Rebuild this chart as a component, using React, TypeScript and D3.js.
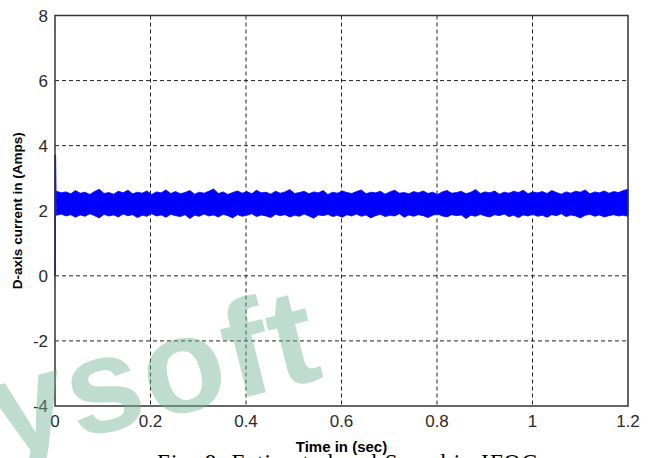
import React from "react";
import * as d3 from "d3";

// Time axis ticks (sec) and current axis ticks (A)
const xTicks = [0, 0.2, 0.4, 0.6, 0.8, 1, 1.2];
const yTicks = [-4, -2, 0, 2, 4, 6, 8];

// Start-up transient of the d-axis current: [time, amps]
const transient: [number, number][] = [
  [0, 0],
  [0.0006, 3.72],
  [0.0016, 2.2],
  [0.003, 2.3],
];

// Steady-state ripple band: upper and lower envelope of i_d (A), sampled evenly from 0.003 s to 1.2 s
const upperEnvelope = [
  2.60, 2.55, 2.58, 2.52, 2.62, 2.54, 2.57, 2.50, 2.59, 2.66, 2.53, 2.56, 2.51, 2.60, 2.55, 2.63, 2.52, 2.57, 2.54, 2.61,
  2.50, 2.58, 2.55, 2.64, 2.53, 2.59, 2.52, 2.56, 2.62, 2.51, 2.57, 2.54, 2.60, 2.67, 2.53, 2.58, 2.50, 2.56, 2.61, 2.54,
  2.59, 2.52, 2.63, 2.55, 2.57, 2.51, 2.60, 2.54, 2.58, 2.65, 2.53, 2.56, 2.60, 2.52, 2.58, 2.55, 2.62, 2.50, 2.57, 2.54,
  2.61, 2.56, 2.53, 2.59, 2.64, 2.52, 2.57, 2.55, 2.60, 2.51, 2.58, 2.63, 2.54, 2.56, 2.52, 2.59, 2.55, 2.61, 2.53, 2.57,
  2.50, 2.58, 2.62, 2.54, 2.56, 2.60, 2.52, 2.57, 2.65, 2.53, 2.58, 2.55, 2.61, 2.51, 2.57, 2.54, 2.60, 2.56, 2.63, 2.52,
  2.58, 2.55, 2.59, 2.53, 2.62, 2.56, 2.51, 2.58, 2.54, 2.60, 2.57, 2.64, 2.52, 2.58, 2.55, 2.61, 2.54, 2.59, 2.56, 2.62, 2.66,
];
const lowerEnvelope = [
  1.86, 1.90, 1.84, 1.88, 1.80, 1.87, 1.83, 1.91, 1.85, 1.78, 1.89, 1.84, 1.87, 1.81, 1.90, 1.85, 1.88, 1.79, 1.86, 1.83,
  1.91, 1.84, 1.87, 1.80, 1.89, 1.85, 1.82, 1.88, 1.76, 1.86, 1.83, 1.90, 1.84, 1.87, 1.81, 1.89, 1.85, 1.78, 1.88, 1.83,
  1.86, 1.91, 1.82, 1.87, 1.84, 1.79, 1.89, 1.85, 1.88, 1.81, 1.86, 1.83, 1.90, 1.84, 1.77, 1.87, 1.85, 1.89, 1.82, 1.86,
  1.80, 1.88, 1.84, 1.90, 1.83, 1.87, 1.78, 1.85, 1.89, 1.82, 1.86, 1.84, 1.91, 1.80, 1.87, 1.83, 1.88, 1.85, 1.79, 1.86,
  1.90, 1.84, 1.81, 1.88, 1.85, 1.87, 1.76, 1.86, 1.83, 1.89, 1.84, 1.81, 1.88, 1.85, 1.90, 1.82, 1.86, 1.79, 1.87, 1.84,
  1.89, 1.83, 1.86, 1.80, 1.88, 1.85, 1.91, 1.82, 1.87, 1.84, 1.78, 1.86, 1.89, 1.83, 1.87, 1.81, 1.85, 1.88, 1.84, 1.86, 1.83,
];
const bandStart = 0.003;
const bandEnd = 1.2;

const xLabel = "Time in (sec)";
const yLabel = "D-axis current in (Amps)";
const caption = "Fig. 9. Estimated and Speed in IFOC";
const watermark = "ysoft";

const W = 651;
const H = 458;
const plot = { left: 55, right: 628, top: 15.5, bottom: 406 };

export default function App() {
  const x = d3.scaleLinear().domain([0, 1.2]).range([plot.left, plot.right]);
  const y = d3.scaleLinear().domain([-4, 8]).range([plot.bottom, plot.top]);

  const n = upperEnvelope.length;
  const band = upperEnvelope.map((u, i) => ({
    t: bandStart + (i * (bandEnd - bandStart)) / (n - 1),
    hi: u,
    lo: lowerEnvelope[i],
  }));

  const area = d3
    .area<{ t: number; hi: number; lo: number }>()
    .x((d) => x(d.t))
    .y0((d) => y(d.lo))
    .y1((d) => y(d.hi));

  const line = d3
    .line<[number, number]>()
    .x((d) => x(d[0]))
    .y((d) => y(d[1]));

  const axisColor = "#333";
  const tickFont = "'Liberation Sans', Arial, sans-serif";

  return (
    <svg
      width={W}
      height={H}
      style={{ position: "absolute", left: 0, top: 0, background: "#fff" }}
    >
      <rect x={0} y={0} width={W} height={H} fill="#fff" />

      {/* dashed grid */}
      {xTicks
        .filter((t) => t > 0 && t < 1.2)
        .map((t) => (
          <line
            key={"gx" + t}
            x1={x(t)}
            x2={x(t)}
            y1={plot.top}
            y2={plot.bottom}
            stroke="#222"
            strokeWidth={1}
            strokeDasharray="4,3"
          />
        ))}
      {yTicks
        .filter((v) => v > -4 && v < 8)
        .map((v) => (
          <line
            key={"gy" + v}
            x1={plot.left}
            x2={plot.right}
            y1={y(v)}
            y2={y(v)}
            stroke="#222"
            strokeWidth={1}
            strokeDasharray="4,3"
          />
        ))}

      {/* d-axis current */}
      <path d={area(band) || ""} fill="#0000ff" stroke="#0000ff" strokeWidth={0.8} />
      <path d={line(transient) || ""} fill="none" stroke="#0000ff" strokeWidth={1.6} />

      {/* frame */}
      <rect
        x={plot.left}
        y={plot.top}
        width={plot.right - plot.left}
        height={plot.bottom - plot.top}
        fill="none"
        stroke={axisColor}
        strokeWidth={1.5}
      />

      {/* tick labels */}
      {xTicks.map((t) => (
        <text
          key={"xt" + t}
          x={x(t)}
          y={427}
          textAnchor="middle"
          fontFamily={tickFont}
          fontSize={17}
          fill="#2a2a2a"
        >
          {String(t)}
        </text>
      ))}
      {yTicks.map((v) => (
        <text
          key={"yt" + v}
          x={48}
          y={y(v) + 6}
          textAnchor="end"
          fontFamily={tickFont}
          fontSize={17}
          fill="#2a2a2a"
        >
          {String(v)}
        </text>
      ))}

      {/* caption, running off the bottom edge */}
      <text
        x={157}
        y={470}
        fontFamily="'Liberation Serif', 'Times New Roman', serif"
        fontSize={23}
        textLength={380}
        lengthAdjust="spacing"
        fill="#000"
      >
        {caption}
      </text>

      {/* axis titles */}
      <text
        x={(plot.left + plot.right) / 2}
        y={452}
        textAnchor="middle"
        fontFamily={tickFont}
        fontWeight="bold"
        fontSize={15}
        fill="#000"
      >
        {xLabel}
      </text>
      <text
        transform={`translate(22, ${(plot.top + plot.bottom) / 2}) rotate(-90)`}
        textAnchor="middle"
        fontFamily={tickFont}
        fontWeight="bold"
        fontSize={13.5}
        fill="#000"
      >
        {yLabel}
      </text>

      {/* watermark */}
      <text
        transform="translate(2, 458) rotate(-14)"
        fontFamily={tickFont}
        fontWeight="bold"
        fontSize={136}
        letterSpacing={2}
        fill="rgb(110,178,148)"
        fillOpacity={0.45}
      >
        {watermark}
      </text>
    </svg>
  );
}
